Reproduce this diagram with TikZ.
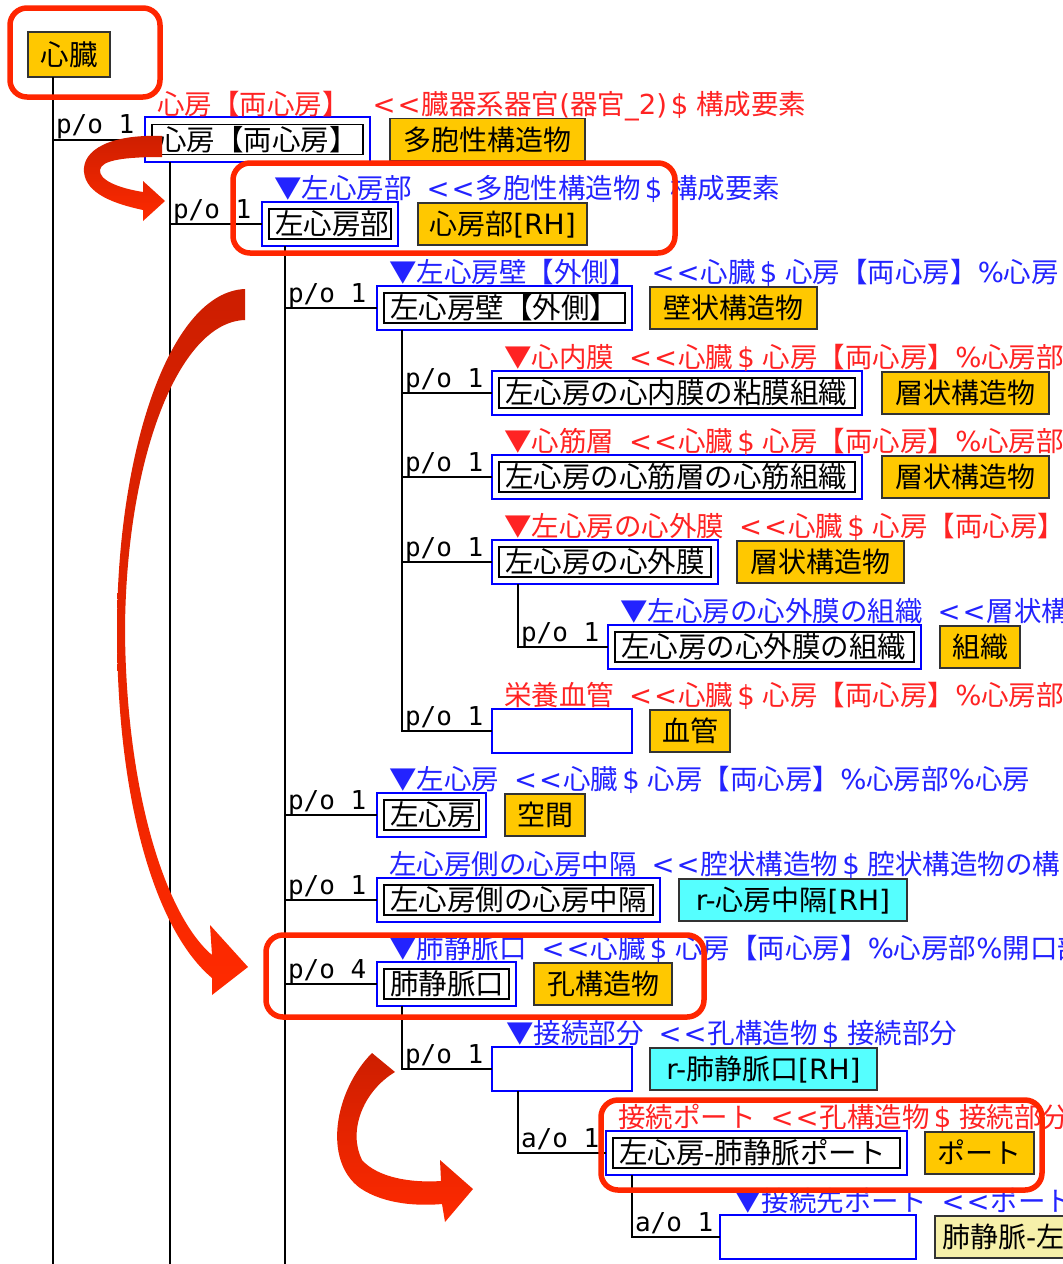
\documentclass[tikz,border=0pt]{standalone}
\usepackage{fontspec}
\setmainfont{Noto Sans CJK JP}
\newfontfamily\lat{DejaVu Sans}
\newfontfamily\mono{DejaVu Sans Mono}
\definecolor{goldfill}{RGB}{255,200,0}
\definecolor{cyanfill}{RGB}{85,255,255}
\definecolor{palefill}{RGB}{246,240,170}
\definecolor{tred}{RGB}{255,35,35}
\definecolor{tblue}{RGB}{35,35,255}
\definecolor{hlred}{RGB}{255,38,0}
\definecolor{arrdark}{RGB}{205,30,0}
\definecolor{arrred}{RGB}{255,42,0}
\newcommand\ltlt{{\lat<\hspace{2pt}<}\hspace{1pt}}
\newcommand\dol{\hspace{4pt}{\lat\$}\hspace{8pt}}
\newcommand\pct{{\lat\%}}
\newcommand\tgap{\hspace{15pt}}
\tikzset{
 tree/.style={line width=2pt, draw=black},
 lbl/.style={pos=0.5, anchor=base west, xshift=2pt, yshift=6pt, inner sep=0pt, font=\mono\fontsize{26pt}{28pt}\selectfont},
 box/.style={inner sep=0pt, outer sep=0pt, line width=1.8pt, anchor=west},
 outbox/.style={box, draw=blue, fill=white, minimum height=44pt},
 inbox/.style={inner sep=0pt, outer sep=0pt, draw=black, line width=1.8pt, minimum height=30pt, anchor=center, font=\fontsize{28.5pt}{30pt}\selectfont, text height=25pt, text depth=3.5pt},
 gbox/.style={box, draw=black!80, fill=goldfill, minimum height=42pt, font=\fontsize{28pt}{30pt}\selectfont, text height=24.6pt, text depth=3.4pt},
 cbox/.style={gbox, fill=cyanfill},
 pbox/.style={gbox, fill=palefill},
 ttl/.style={inner sep=0pt, anchor=base west, font=\fontsize{27.5pt}{30pt}\selectfont},
 hl/.style={draw=hlred, line width=5.5pt, rounded corners=17pt},
}
\begin{document}
\begin{tikzpicture}[x=1pt,y=-1pt]
\useasboundingbox (0,0) rectangle (1063,1264);
\clip (0,0) rectangle (1063,1264);
\fill[white] (0,0) rectangle (1063,1264);
\coordinate (bot) at (0,1275);

% root
\node[gbox, minimum width=82pt, minimum height=45pt, font=\fontsize{28.5pt}{30pt}\selectfont] (a0) at (28,54.5) {心臓};

% level 1
\node[outbox, minimum width=225pt, minimum height=45pt] (a1) at (145,139.5) {};
\node[inbox] (a1i) at (a1.center) {\makebox[211pt][l]{\hspace{6pt}心房【両心房】}};
\node[gbox, minimum width=195pt] (a1g) at ([xshift=20pt]a1.east) {多胞性構造物};
\node[ttl, text=tred] (a1n) at ([xshift=12pt,yshift=2.5pt]a1.north west) {心房【両心房】\hspace{8pt}\tgap\ltlt 臓器系器官{\lat(}器官{\lat\_2)}\dol 構成要素};

% level 2
\node[outbox, minimum width=136pt] (a2) at (262,224) {};
\node[inbox] (a2i) at (a2.center) {\makebox[122pt][l]{\hspace{6pt}左心房部}};
\node[gbox, minimum width=169pt] (a2g) at ([xshift=20pt]a2.east) {心房部{\lat[RH]}};
\node[ttl, text=tblue] (a2n) at ([xshift=12pt,yshift=3.5pt]a2.north west) {▼左心房部\tgap\ltlt 多胞性構造物\dol 構成要素};

% level 3
\node[outbox, minimum width=255pt] (a3) at (377,308) {};
\node[inbox] (a3i) at (a3.center) {\makebox[241pt][l]{\hspace{6pt}左心房壁【外側】}};
\node[gbox, minimum width=167pt] (a3g) at ([xshift=18pt]a3.east) {壁状構造物};
\node[ttl, text=tblue] (a3n) at ([xshift=12pt,yshift=3.5pt]a3.north west) {▼左心房壁【外側】\tgap\ltlt 心臓\dol 心房【両心房】\pct 心房};

% level 4
\node[outbox, minimum width=370pt] (a4) at (492,393) {};
\node[inbox] (a4i) at (a4.center) {\makebox[356pt][l]{\hspace{6pt}左心房の心内膜の粘膜組織}};
\node[gbox, minimum width=167pt] (a4g) at ([xshift=20pt]a4.east) {層状構造物};
\node[ttl, text=tred] (a4n) at ([xshift=12pt,yshift=3.5pt]a4.north west) {▼心内膜\tgap\ltlt 心臓\dol 心房【両心房】\pct 心房部};

\node[outbox, minimum width=370pt] (a5) at (492,477) {};
\node[inbox] (a5i) at (a5.center) {\makebox[356pt][l]{\hspace{6pt}左心房の心筋層の心筋組織}};
\node[gbox, minimum width=167pt] (a5g) at ([xshift=20pt]a5.east) {層状構造物};
\node[ttl, text=tred] (a5n) at ([xshift=12pt,yshift=3.5pt]a5.north west) {▼心筋層\tgap\ltlt 心臓\dol 心房【両心房】\pct 心房部};

\node[outbox, minimum width=226pt] (a6) at (492,562) {};
\node[inbox] (a6i) at (a6.center) {\makebox[212pt][l]{\hspace{6pt}左心房の心外膜}};
\node[gbox, minimum width=167pt] (a6g) at ([xshift=19pt]a6.east) {層状構造物};
\node[ttl, text=tred] (a6n) at ([xshift=12pt,yshift=3.5pt]a6.north west) {▼左心房の心外膜\tgap\ltlt 心臓\dol 心房【両心房】};

\node[outbox, minimum width=313pt] (a7) at (608,647) {};
\node[inbox] (a7i) at (a7.center) {\makebox[299pt][l]{\hspace{6pt}左心房の心外膜の組織}};
\node[gbox, minimum width=80pt] (a7g) at ([xshift=19pt]a7.east) {組織};
\node[ttl, text=tblue] (a7n) at ([xshift=12pt,yshift=3.5pt]a7.north west) {▼左心房の心外膜の組織\tgap\ltlt 層状構};

\node[outbox, minimum width=140pt] (a8) at (492,731) {};
\node[gbox, minimum width=80pt] (a8g) at ([xshift=18pt]a8.east) {血管};
\node[ttl, text=tred] (a8n) at ([xshift=12pt,yshift=3.5pt]a8.north west) {栄養血管\tgap\ltlt 心臓\dol 心房【両心房】\pct 心房部};

% level 3 continued
\node[outbox, minimum width=109pt] (a9) at (377,815) {};
\node[inbox] (a9i) at (a9.center) {\makebox[95pt][l]{\hspace{6pt}左心房}};
\node[gbox, minimum width=80pt] (a9g) at ([xshift=19pt]a9.east) {空間};
\node[ttl, text=tblue] (a9n) at ([xshift=12pt,yshift=3.5pt]a9.north west) {▼左心房\tgap\ltlt 心臓\dol 心房【両心房】\pct 心房部\pct 心房};

\node[outbox, minimum width=283pt] (a10) at (377,900) {};
\node[inbox] (a10i) at (a10.center) {\makebox[269pt][l]{\hspace{6pt}左心房側の心房中隔}};
\node[cbox, minimum width=228pt] (a10g) at ([xshift=19pt]a10.east) {{\lat r-}心房中隔{\lat[RH]}};
\node[ttl, text=tblue] (a10n) at ([xshift=12pt,yshift=3.5pt]a10.north west) {左心房側の心房中隔\tgap\ltlt 腔状構造物\dol 腔状構造物の構};

\node[outbox, minimum width=139pt] (a11) at (377,984) {};
\node[inbox] (a11i) at (a11.center) {\makebox[125pt][l]{\hspace{6pt}肺静脈口}};
\node[gbox, minimum width=138pt] (a11g) at ([xshift=18pt]a11.east) {孔構造物};
\node[ttl, text=tblue] (a11n) at ([xshift=12pt,yshift=3.5pt]a11.north west) {▼肺静脈口\tgap\ltlt 心臓\dol 心房【両心房】\pct 心房部\pct 開口部};

\node[outbox, minimum width=140pt] (a12) at (492,1069) {};
\node[cbox, minimum width=227pt] (a12g) at ([xshift=18pt]a12.east) {{\lat r-}肺静脈口{\lat[RH]}};
\node[ttl, text=tblue] (a12n) at ([xshift=14pt,yshift=3.5pt]a12.north west) {▼接続部分\tgap\ltlt 孔構造物\dol 接続部分};

\node[outbox, minimum width=301pt] (a13) at (606,1153) {};
\node[inbox] (a13i) at (a13.center) {\makebox[287pt][l]{\hspace{6pt}左心房{\lat -}肺静脈ポート}};
\node[gbox, minimum width=109pt] (a13g) at ([xshift=18pt]a13.east) {ポート};
\node[ttl, text=tred] (a13n) at ([xshift=12pt,yshift=3.5pt]a13.north west) {接続ポート\tgap\ltlt 孔構造物\dol 接続部分};

\node[outbox, minimum width=196pt] (a14) at (720,1237) {};
\node[pbox, minimum width=250pt] (a14g) at ([xshift=19pt]a14.east) {\makebox[236pt][l]{肺静脈{\lat -}左心房}};
\node[ttl, text=tblue] (a14n) at ([xshift=14pt,yshift=3.5pt]a14.north west) {▼接続先ポート\tgap\ltlt ポート};

% tree connectors
\coordinate (v0) at ([xshift=25pt]a0.south west);
\coordinate (v1) at ([xshift=25pt]a1.south west);
\coordinate (v2) at ([xshift=23pt]a2.south west);
\coordinate (v3) at ([xshift=25pt]a3.south west);
\coordinate (v6) at ([xshift=26pt]a6.south west);
\coordinate (v11) at ([xshift=25pt]a11.south west);
\coordinate (v12) at ([xshift=26pt]a12.south west);
\coordinate (v13) at ([xshift=26pt]a13.south west);

\draw[tree] (v0) -- (v0 |- bot);
\draw[tree] (v1) -- (v1 |- bot);
\draw[tree] (v2) -- (v2 |- bot);
\draw[tree] (v0) |- node[lbl]{p/o 1} (a1.west);
\draw[tree] (v1) |- node[lbl]{p/o 1} (a2.west);
\draw[tree] (v2) |- node[lbl]{p/o 1} (a3.west);
\draw[tree] (v3) |- node[lbl]{p/o 1} (a4.west);
\draw[tree] (v3) |- node[lbl]{p/o 1} (a5.west);
\draw[tree] (v3) |- node[lbl]{p/o 1} (a6.west);
\draw[tree] (v6) |- node[lbl]{p/o 1} (a7.west);
\draw[tree] (v3) |- node[lbl]{p/o 1} (a8.west);
\draw[tree] (v2) |- node[lbl]{p/o 1} (a9.west);
\draw[tree] (v2) |- node[lbl]{p/o 1} (a10.west);
\draw[tree] (v2) |- node[lbl]{p/o 4} (a11.west);
\draw[tree] (v11) |- node[lbl]{p/o 1} (a12.west);
\draw[tree] (v12) |- node[lbl]{a/o 1} (a13.west);
\draw[tree] (v13) |- node[lbl]{a/o 1} (a14.west);

% red highlight frames
\draw[hl] (10,8) rectangle (160,97);
\draw[hl] (233,163) rectangle (675,253);
\draw[hl] (266,935) rectangle (704,1017);
\draw[hl] (601,1100) rectangle (1042,1190);

% red curved arrows
\shade[top color=arrdark, bottom color=arrred] (162,136) .. controls (110,134) and (82,150) .. (84,172) .. controls (86,194) and (115,204) .. (143,210) -- (143,221) -- (165,201) -- (143,181) -- (143,192) .. controls (118,188) and (99,180) .. (100,170) .. controls (101,160) and (125,157) .. (162,157) -- cycle;

\shade[top color=arrdark, middle color=arrred, bottom color=arrred] (245,289) .. controls (170,292) and (117,450) .. (117,630) .. controls (117,800) and (155,930) .. (212,978) -- (212,995) -- (248,967) -- (210,925) -- (212,955) .. controls (165,915) and (126,790) .. (125,630) .. controls (126,460) and (178,322) .. (245,320) -- cycle;

\shade[top color=arrdark, bottom color=arrred] (372,1053) .. controls (335,1090) and (322,1160) .. (360,1188) .. controls (385,1205) and (420,1206) .. (442,1204) -- (445,1222) -- (473,1189) -- (440,1160) -- (441,1181) .. controls (412,1183) and (378,1178) .. (362,1160) .. controls (348,1132) and (362,1092) .. (395,1072) -- cycle;
\end{tikzpicture}
\end{document}
